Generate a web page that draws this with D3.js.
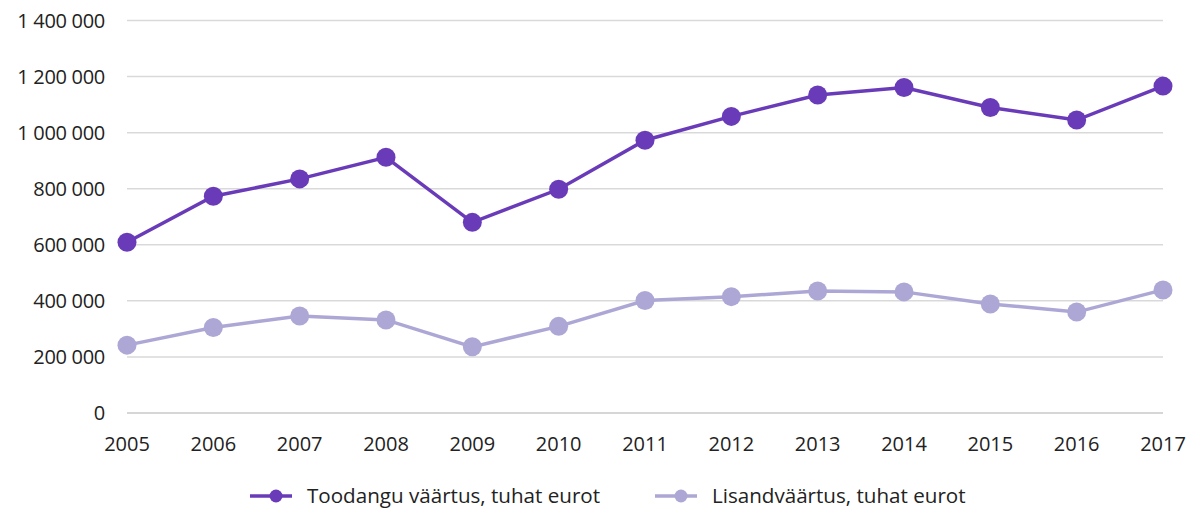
<!DOCTYPE html>
<html>
<head>
<meta charset="utf-8">
<script src="https://cdn.jsdelivr.net/npm/d3@7"></script>
<style>
  body { margin: 0; background: #fff; }
  text { font-family: "Open Sans", "Noto Sans", sans-serif; fill: #222; }
</style>
</head>
<body>
<svg id="chart" width="1195" height="509"></svg>
<script>
var years = [2005, 2006, 2007, 2008, 2009, 2010, 2011, 2012, 2013, 2014, 2015, 2016, 2017];
var toodang = [609000, 773000, 835000, 912000, 680000, 798000, 973000, 1058000, 1134000, 1161000, 1090000, 1045000, 1166000];
var lisand = [242000, 305000, 346000, 332000, 236000, 309000, 401000, 415000, 435000, 432000, 389000, 360000, 439000];
var yTicks = [0, 200000, 400000, 600000, 800000, 1000000, 1200000, 1400000];

var series = [
    { name: "Toodangu väärtus, tuhat eurot", values: toodang, color: "#6a3bb8" },
    { name: "Lisandväärtus, tuhat eurot", values: lisand, color: "#ada7d5" }
];

var svg = d3.select("#chart");

var x = d3.scalePoint().domain(years).range([127, 1163]);
var y = d3.scaleLinear().domain([0, 1400000]).range([413, 20.5]);

var fmt = function(d) { return d3.format(",")(d).replace(/,/g, " "); };

// gridlines
svg.append("g")
    .selectAll("line")
    .data(yTicks)
    .enter().append("line")
    .attr("x1", 127).attr("x2", 1163)
    .attr("y1", function(d) { return y(d); })
    .attr("y2", function(d) { return y(d); })
    .attr("stroke", function(d) { return d == 0 ? "#c8c8c8" : "#d9d9d9"; })
    .attr("stroke-width", 1.5);

// y labels
svg.append("g")
    .selectAll("text")
    .data(yTicks)
    .enter().append("text")
    .attr("x", 105)
    .attr("y", function(d) { return y(d); })
    .attr("dy", ".35em")
    .attr("text-anchor", "end")
    .style("font-size", "20px")
    .style("letter-spacing", "-0.3px")
    .text(fmt);

// x labels
svg.append("g")
    .selectAll("text")
    .data(years)
    .enter().append("text")
    .attr("x", function(d) { return x(d); })
    .attr("y", 451)
    .attr("text-anchor", "middle")
    .style("font-size", "20px")
    .text(function(d) { return d; });

var line = d3.line()
    .x(function(d, i) { return x(years[i]); })
    .y(function(d) { return y(d); });

series.forEach(function(s) {
    svg.append("path")
        .datum(s.values)
        .attr("d", line)
        .attr("fill", "none")
        .attr("stroke", s.color)
        .attr("stroke-width", 3.5);

    svg.append("g")
        .selectAll("circle")
        .data(s.values)
        .enter().append("circle")
        .attr("cx", function(d, i) { return x(years[i]); })
        .attr("cy", function(d) { return y(d); })
        .attr("r", 9.5)
        .attr("fill", s.color);
});

// legend
var legendX = [250, 655];
series.forEach(function(s, i) {
    var g = svg.append("g").attr("transform", "translate(" + legendX[i] + ",496)");
    g.append("line")
        .attr("x1", 0).attr("x2", 42)
        .attr("stroke", s.color).attr("stroke-width", 3.5);
    g.append("circle").attr("cx", 26).attr("r", 6.5).attr("fill", s.color);
    g.append("text")
        .attr("x", 57)
        .attr("dy", ".35em")
        .style("font-size", "20.6px")
        .text(s.name);
});
</script>
</body>
</html>
